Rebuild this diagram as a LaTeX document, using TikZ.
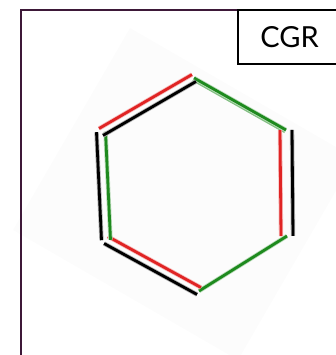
\documentclass[tikz,border=0pt]{standalone}
\usepackage{fontspec}
\setsansfont{Lato}
\usetikzlibrary{calc}
\definecolor{framepurple}{HTML}{3D1838}
\definecolor{bondred}{HTML}{E02424}
\definecolor{bondgreen}{HTML}{1E8A1E}
\definecolor{paleback}{HTML}{FCFCFC}

\tikzset{
  redbond/.style={draw=bondred, line width=2.8pt, preaction={draw=bondred!30, line width=4.4pt}},
  blackbond/.style={draw=black, line width=2.8pt, preaction={draw=black!30, line width=4.4pt}},
  greenbond/.style={draw=bondgreen, line width=2.8pt, preaction={draw=bondgreen!30, line width=4.4pt}},
  palegreen/.style={draw=bondgreen!55, line width=2.2pt},
}

% one line of a bond, pushed off the ring (outer) or into it (inner)
\newcommand{\outerbond}[4]{\draw[#4] ($(#1)!#3!90:(#2)$) -- ($(#2)!#3!-90:(#1)$);}
\newcommand{\innerbond}[4]{\draw[#4] ($(#1)!#3!-90:(#2)$) -- ($(#2)!#3!90:(#1)$);}

\begin{document}
\begin{tikzpicture}[x=1pt,y=-1pt]
\useasboundingbox (0,0) rectangle (336,355);
\clip (0,0) rectangle (336,355);

% faint tilted backdrop
\fill[paleback] (130,28) -- (355,158) -- (238,360) -- (13,230) -- cycle;

% frame
\draw[framepurple, line width=1.8pt] (21,380) -- (21,10) -- (360,10);

% ring atoms
\coordinate (top) at (194,78);
\coordinate (ur)  at (286,130);
\coordinate (lr)  at (287,236);
\coordinate (bot) at (199,291);
\coordinate (ll)  at (106,240);
\coordinate (ul)  at (101,132);

% bonds
\innerbond{top}{ur}{2.4pt}{palegreen}
\draw[greenbond] (top) -- (ur);
\innerbond{ur}{lr}{6pt}{redbond}
\outerbond{ur}{lr}{6pt}{blackbond}
\draw[greenbond] (lr) -- (bot);
\innerbond{bot}{ll}{4pt}{redbond}
\outerbond{bot}{ll}{4pt}{blackbond}
\innerbond{ll}{ul}{4.5pt}{greenbond}
\outerbond{ll}{ul}{4.5pt}{blackbond}
\innerbond{ul}{top}{4pt}{blackbond}
\outerbond{ul}{top}{4pt}{redbond}

% label box
\draw[fill=white, line width=1.3pt] (238,10) rectangle (345,64);
\node[anchor=base, font=\sffamily\fontsize{29}{29}\selectfont, inner sep=0pt] (cgr) at (289.5,48) {CGR};
\end{tikzpicture}
\end{document}
